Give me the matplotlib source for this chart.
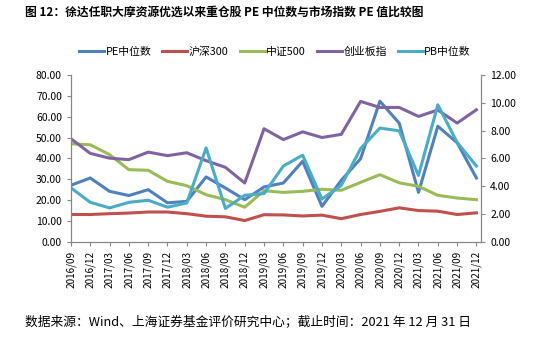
import numpy as np
import matplotlib.pyplot as plt

plt.rcParams["font.family"] = ["Noto Sans CJK SC", "DejaVu Sans"]

dates = ["2016/09", "2016/12", "2017/03", "2017/06", "2017/09", "2017/12",
         "2018/03", "2018/06", "2018/09", "2018/12", "2019/03", "2019/06",
         "2019/09", "2019/12", "2020/03", "2020/06", "2020/09", "2020/12",
         "2021/03", "2021/06", "2021/09", "2021/12"]

# left axis (PE)
pe_median = [27.1, 30.6, 24.2, 22.2, 25.0, 18.7, 19.4, 31.1, 25.8, 20.2, 26.3,
             28.2, 38.6, 17.0, 29.5, 39.8, 67.4, 56.9, 23.7, 55.4, 47.5, 30.6]
hs300 = [13.1, 13.1, 13.5, 13.8, 14.3, 14.3, 13.5, 12.3, 12.0, 10.2, 13.0,
         12.9, 12.4, 12.8, 11.1, 13.1, 14.6, 16.3, 15.0, 14.7, 13.1, 13.9]
zz500 = [47.0, 46.5, 41.8, 34.6, 34.3, 29.0, 26.9, 22.6, 20.2, 16.6, 24.5,
         23.7, 24.2, 25.2, 24.7, 28.5, 32.2, 28.3, 26.6, 22.3, 21.0, 20.2]
cyb = [49.4, 42.4, 40.1, 39.4, 43.0, 41.3, 42.7, 38.9, 35.7, 28.2, 54.2,
       49.0, 52.7, 50.0, 51.5, 67.3, 64.4, 64.4, 60.1, 63.2, 56.9, 63.3]
# right axis (PB)
pb_median = [3.88, 2.84, 2.44, 2.84, 2.99, 2.49, 2.80, 6.75, 2.40, 3.35, 3.47,
             5.45, 6.23, 3.08, 4.05, 6.70, 8.18, 7.98, 4.77, 9.85, 7.15, 5.45]

x = np.arange(len(dates))
lw = 2.2
grey = "#868686"

fig = plt.figure(figsize=(5.5, 3.5), dpi=100)
ax = fig.add_axes([0.129, 0.309, 0.746, 0.477])
ax2 = ax.twinx()

l1, = ax.plot(x, pe_median, color="#4F81BD", lw=lw, label="PE中位数")
l2, = ax.plot(x, hs300, color="#C0504D", lw=lw, label="沪深300")
l3, = ax.plot(x, zz500, color="#9BBB59", lw=lw, label="中证500")
l4, = ax.plot(x, cyb, color="#8064A2", lw=lw, label="创业板指")
l5, = ax2.plot(x, pb_median, color="#4BACC6", lw=lw, label="PB中位数")

ax.set_ylim(0, 80)
ax.set_yticks(np.arange(0, 81, 10))
ax.set_yticklabels([f"{v:.2f}" for v in range(0, 81, 10)])
ax2.set_ylim(0, 12)
ax2.set_yticks(np.arange(0, 13, 2))
ax2.set_yticklabels([f"{v:.2f}" for v in range(0, 13, 2)])
ax.set_xlim(0, len(dates) - 0.75)
ax.set_xticks(x)
ax.set_xticklabels(dates, rotation=90)

for a in (ax, ax2):
    a.spines["top"].set_visible(False)
    for s in ("left", "right", "bottom"):
        a.spines[s].set_color(grey)
    a.tick_params(colors=grey, labelcolor="black", labelsize=7.5, length=3)
ax.tick_params(axis="x", labelsize=7.2)

fig.legend(handles=[l1, l2, l3, l4, l5], loc="center", bbox_to_anchor=(0.5, 0.852),
           ncol=5, frameon=False, fontsize=7.8, handlelength=2.3,
           handletextpad=0.15, columnspacing=1.0)

fig.text(0.045, 0.965, "图 12：徐达任职大摩资源优选以来重仓股 PE 中位数与市场指数 PE 值比较图",
         fontsize=8.5, fontweight="bold", va="center", ha="left")
fig.text(0.045, 0.08, "数据来源：Wind、上海证券基金评价研究中心；截止时间：2021 年 12 月 31 日",
         fontsize=9.2, style="italic", va="center", ha="left")

fig.savefig("out.png", dpi=100)
